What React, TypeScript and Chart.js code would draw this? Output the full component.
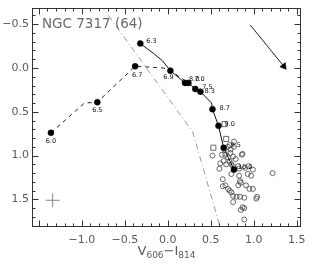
import { useEffect, useRef } from 'react';
import { Chart, registerables } from 'chart.js';
Chart.register(...registerables);

// axis ranges (data units)
const xMin = -1.58;
const xMax = 1.55;
const yMin = -0.685;
const yMax = 1.815;

// observed clusters (open circles)
const obsX = [0.63, 0.67, 0.73, 0.70, 0.65, 0.61, 0.72, 0.74, 0.86, 0.76, 0.82, 0.83, 0.90, 0.94, 0.99, 0.93, 0.97, 0.83, 0.74, 1.22, 0.64, 0.67, 0.70, 0.72, 0.74, 0.84, 0.85, 0.82, 0.91, 0.95, 0.99, 1.04, 1.03, 0.76, 0.80, 0.84, 0.89, 0.76, 0.87, 0.89, 0.85, 0.89, 0.52, 0.60, 0.64, 0.72, 0.77, 0.87, 0.66, 0.73, 0.76, 0.79, 0.68, 0.77, 0.70];
const obsY = [0.99, 0.99, 0.97, 1.02, 1.06, 1.09, 1.07, 1.10, 0.99, 1.12, 1.12, 1.15, 1.14, 1.12, 1.16, 1.21, 1.23, 1.23, 1.21, 1.20, 1.27, 1.34, 1.38, 1.40, 1.42, 1.29, 1.31, 1.34, 1.34, 1.38, 1.38, 1.47, 1.49, 1.46, 1.47, 1.47, 1.48, 1.53, 1.59, 1.60, 1.62, 1.73, 1.00, 1.15, 1.35, 0.88, 0.90, 0.98, 0.93, 0.93, 1.01, 1.04, 1.10, 0.84, 0.90];

// open squares
const sqX = [0.68, 0.53, 0.66];
const sqY = [0.81, 0.91, 0.64];

// model tracks
const solidTrackX = [-0.32, -0.17, -0.06, 0.03, 0.20, 0.24, 0.32, 0.38, 0.51, 0.52, 0.59, 0.65, 0.77];
const solidTrackY = [-0.28, -0.17, -0.08, 0.03, 0.17, 0.17, 0.24, 0.27, 0.40, 0.47, 0.66, 0.91, 1.16];
const dashedTrackX = [-1.36, -0.97, -0.82, -0.38, -0.05, 0.03, 0.24];
const dashedTrackY = [0.74, 0.40, 0.39, -0.02, 0.0, 0.03, 0.17];

// labelled age points (filled dots)
const ageX = [-1.36, -0.82, -0.38, -0.32, 0.03, 0.20, 0.24, 0.32, 0.38, 0.52, 0.59, 0.65, 0.77];
const ageY = [0.74, 0.39, -0.02, -0.28, 0.03, 0.17, 0.17, 0.24, 0.27, 0.47, 0.66, 0.91, 1.16];
const ageLabels = ['6.0', '6.5', '6.7', '6.3', '6.9', '8.0', '7.0', '7.5', '8.3', '8.7', '9.0', '9.5', '10.0'];

// dash-dot line
const dashDotX = [-0.78, 0.29, 0.61];
const dashDotY = [-0.72, 0.73, 1.82];

// reddening arrow
const arrowX = [0.96, 1.35];
const arrowY = [-0.49, -0.02];

// error cross
const crossX = [-1.34];
const crossY = [1.51];

const xTickLabels = ['\u22121.0', '\u22120.5', '0.0', '0.5', '1.0', '1.5'];
const xTickValues = [-1.0, -0.5, 0.0, 0.5, 1.0, 1.5];
const yTickLabels = ['\u22120.5', '0.0', '0.5', '1.0', '1.5'];
const yTickValues = [-0.5, 0.0, 0.5, 1.0, 1.5];

const title = 'NGC 7317 (64)';

// label placement: [dx, dy, align]
const placement: Record<string, [number, number, CanvasTextAlign]> = {
  '6.0': [0, 8, 'center'],
  '6.5': [0, 8, 'center'],
  '6.7': [2, 9, 'center'],
  '6.3': [6, -2, 'left'],
  '6.9': [-2, 7, 'center'],
  '8.0': [4, -4, 'left'],
  '7.0': [6, -4, 'left'],
  '7.5': [7, -2, 'left'],
  '8.3': [4, 0, 'left'],
  '8.7': [7, -1, 'left'],
  '9.0': [6, -2, 'left'],
  '9.5': [7, -2, 'left'],
  '10.0': [4, -2, 'left'],
};

const pts = (xs: number[], ys: number[]) => xs.map((x, i) => ({ x, y: ys[i] }));

const FONT = '"DejaVu Sans", sans-serif';
const TEXT = '#5a5a5a';

const decorPlugin = {
  id: 'decor',
  afterDatasetsDraw(chart: any) {
    const { ctx, chartArea, scales } = chart;
    const x = scales.x;
    const y = scales.y;
    ctx.save();
    // age labels
    ctx.font = `6.5px ${FONT}`;
    ctx.fillStyle = '#111';
    ctx.textBaseline = 'middle';
    ageLabels.forEach((t, i) => {
      const p = placement[t] || [5, 0, 'left'];
      const px = x.getPixelForValue(ageX[i]);
      const py = y.getPixelForValue(ageY[i]);
      ctx.textAlign = p[2];
      ctx.fillText(t, px + p[0], py + p[1]);
    });
    // title
    ctx.font = `13.5px ${FONT}`;
    ctx.fillStyle = '#6a6a6a';
    ctx.textAlign = 'left';
    ctx.textBaseline = 'middle';
    ctx.fillText(title, chartArea.left + 10, y.getPixelForValue(-0.5));

    // tick labels
    ctx.font = `11px ${FONT}`;
    ctx.fillStyle = TEXT;
    ctx.textAlign = 'center';
    ctx.textBaseline = 'middle';
    xTickValues.forEach((v, i) => ctx.fillText(xTickLabels[i], x.getPixelForValue(v), chartArea.bottom + 13));
    ctx.textAlign = 'right';
    yTickValues.forEach((v, i) => ctx.fillText(yTickLabels[i], chartArea.left - 3, y.getPixelForValue(v)));

    // frame
    ctx.strokeStyle = '#333';
    ctx.lineWidth = 1;
    const l = Math.round(chartArea.left) + 0.5;
    const r = Math.round(chartArea.right) - 0.5;
    const t = Math.round(chartArea.top) + 0.5;
    const b = Math.round(chartArea.bottom) - 0.5;
    ctx.strokeRect(l, t, r - l, b - t);
    ctx.beginPath();
    for (let k = Math.ceil(xMin * 10); k <= Math.floor(xMax * 10); k++) {
      const len = k % 5 === 0 ? 6 : 3;
      const px = Math.round(x.getPixelForValue(k / 10)) + 0.5;
      ctx.moveTo(px, b); ctx.lineTo(px, b - len);
      ctx.moveTo(px, t); ctx.lineTo(px, t + len);
    }
    for (let k = Math.ceil(yMin * 10); k <= Math.floor(yMax * 10); k++) {
      const len = k % 5 === 0 ? 6 : 3;
      const py = Math.round(y.getPixelForValue(k / 10)) + 0.5;
      ctx.moveTo(l, py); ctx.lineTo(l + len, py);
      ctx.moveTo(r, py); ctx.lineTo(r - len, py);
    }
    ctx.stroke();

    // x axis title with subscripts
    const parts: [string, boolean][] = [['V', false], ['606', true], ['\u2212I', false], ['814', true]];
    const mainF = `13px ${FONT}`;
    const subF = `9px ${FONT}`;
    let w = 0;
    parts.forEach(([s, sub]) => { ctx.font = sub ? subF : mainF; w += ctx.measureText(s).width; });
    let cx = (chartArea.left + chartArea.right) / 2 - w / 2;
    const base = 255;
    ctx.fillStyle = TEXT;
    ctx.textBaseline = 'alphabetic';
    ctx.textAlign = 'left';
    parts.forEach(([s, sub]) => {
      ctx.font = sub ? subF : mainF;
      ctx.fillText(s, cx, sub ? base + 3 : base);
      cx += ctx.measureText(s).width;
    });
    ctx.restore();
  },
};

export default function App() {
  const ref = useRef<HTMLCanvasElement>(null);
  useEffect(() => {
    if (!ref.current) return;
    const chart = new Chart(ref.current, {
      type: 'scatter',
      data: {
        datasets: [
          { data: pts(ageX, ageY), pointStyle: 'circle', pointRadius: 3, pointBackgroundColor: '#000', pointBorderColor: '#000', pointBorderWidth: 0.5, showLine: false, order: 1 } as any,
          { data: pts(arrowX, arrowY), showLine: true, borderColor: '#222', borderWidth: 1, pointStyle: 'triangle', pointRadius: [0, 4], rotation: [0, 141.7], pointBackgroundColor: '#000', pointBorderColor: '#000', pointBorderWidth: 0.5, order: 2 } as any,
          { data: pts(solidTrackX, solidTrackY), showLine: true, borderColor: '#111', borderWidth: 1, pointRadius: 0, order: 3 } as any,
          { data: pts(dashedTrackX, dashedTrackY), showLine: true, borderColor: '#222', borderWidth: 1, borderDash: [4, 4], pointRadius: 0, order: 4 } as any,
          { data: pts(sqX, sqY), pointStyle: 'rect', pointRadius: 3.6, pointBackgroundColor: 'rgba(0,0,0,0)', pointBorderColor: '#444', pointBorderWidth: 0.8, showLine: false, order: 5 } as any,
          { data: pts(obsX, obsY), pointStyle: 'circle', pointRadius: 2.5, pointBackgroundColor: 'rgba(0,0,0,0)', pointBorderColor: '#444', pointBorderWidth: 0.8, showLine: false, order: 6 } as any,
          { data: pts(dashDotX, dashDotY), showLine: true, borderColor: '#999', borderWidth: 1, borderDash: [6, 3, 1, 3], pointRadius: 0, order: 7 } as any,
          { data: pts(crossX, crossY), pointStyle: 'cross', pointRadius: 7, pointBorderColor: '#888', pointBorderWidth: 1, showLine: false, order: 8 } as any,
        ],
      },
      options: {
        animation: false,
        responsive: true,
        maintainAspectRatio: false,
        events: [],
        layout: { padding: { top: 2, right: 2, left: 0, bottom: 0 } },
        plugins: { legend: { display: false }, tooltip: { enabled: false } },
        scales: {
          x: {
            type: 'linear',
            min: xMin,
            max: xMax,
            grid: { display: false, drawTicks: false },
            border: { display: false },
            afterFit(s: any) { s.height = 38; s.paddingLeft = 0; s.paddingRight = 0; },
            ticks: { display: false, stepSize: 0.5 },
          },
          y: {
            type: 'linear',
            reverse: true,
            min: yMin,
            max: yMax,
            grid: { display: false, drawTicks: false },
            border: { display: false },
            afterFit(s: any) { s.width = 32; s.paddingTop = 0; s.paddingBottom = 0; },
            ticks: { display: false, stepSize: 0.5 },
          },
        },
      } as any,
      plugins: [decorPlugin],
    });
    return () => chart.destroy();
  }, []);
  return (
    <div style={{ position: 'fixed', left: 0, top: 0, width: 309, height: 265, background: '#fff' }}>
      <canvas ref={ref} />
    </div>
  );
}
